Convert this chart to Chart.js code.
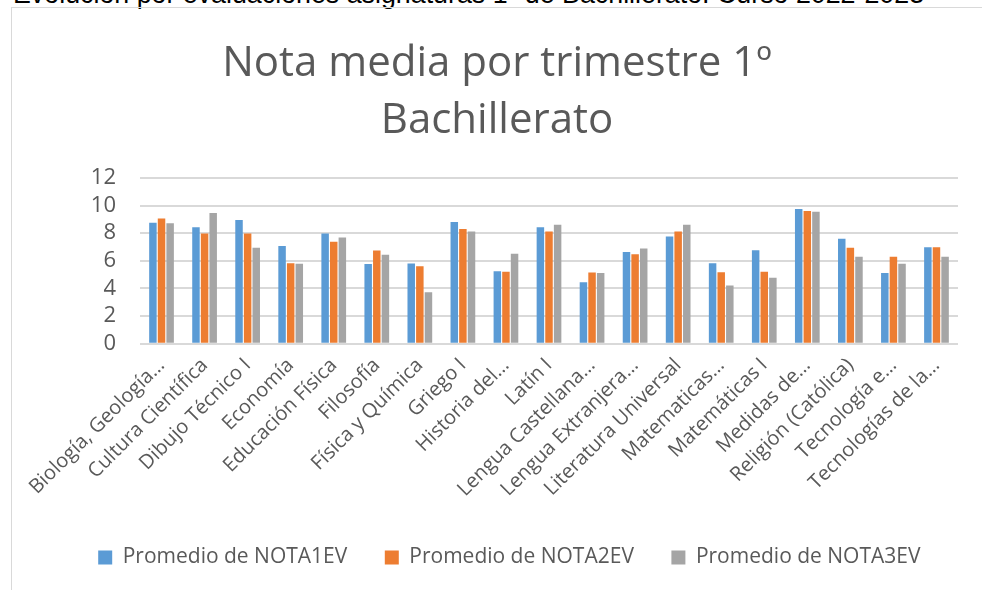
<!DOCTYPE html>
<html>
<head>
<meta charset="utf-8">
<script src="https://cdn.jsdelivr.net/npm/chart.js@4.4.1/dist/chart.umd.min.js"></script>
<style>
  html, body { margin: 0; padding: 0; background: #ffffff; overflow: hidden; }
  body { width: 982px; height: 590px; position: relative; }
  #header { position: absolute; left: 13px; top: -19px; font-family: "Liberation Sans", Arial, sans-serif; font-size: 26.8px; line-height: 27px; color: #000; white-space: nowrap; }
  #frame { position: absolute; left: 11px; top: 7px; width: 1000px; height: 620px; border: 1px solid #d9d9d9; box-sizing: border-box; }
  #c { position: absolute; left: 12px; top: 8px; }
</style>
</head>
<body>
<div id="header">Evolución por evaluaciones asignaturas 1º de Bachillerato. Curso 2022-2023</div>
<div id="frame"></div>
<canvas id="c" width="970" height="582"></canvas>
<script>
const categories = [
  "Biología, Geología…",
  "Cultura Científica",
  "Dibujo Técnico I",
  "Economía",
  "Educación Física",
  "Filosofía",
  "Física y Química",
  "Griego I",
  "Historia del…",
  "Latín I",
  "Lengua Castellana…",
  "Lengua Extranjera…",
  "Literatura Universal",
  "Matematicas…",
  "Matemáticas I",
  "Medidas de…",
  "Religión (Católica)",
  "Tecnología e…",
  "Tecnologías de la…"
];
const nota1ev = [8.76, 8.44, 8.95, 7.07, 7.98, 5.77, 5.81, 8.81, 5.25, 8.44, 4.45, 6.63, 7.77, 5.83, 6.77, 9.75, 7.60, 5.11, 6.99];
const nota2ev = [9.07, 7.98, 7.98, 5.83, 7.38, 6.75, 5.61, 8.30, 5.20, 8.13, 5.15, 6.48, 8.13, 5.18, 5.20, 9.61, 6.94, 6.29, 6.99];
const nota3ev = [8.73, 9.46, 6.94, 5.78, 7.69, 6.44, 3.73, 8.13, 6.51, 8.61, 5.11, 6.90, 8.61, 4.21, 4.77, 9.56, 6.29, 5.78, 6.29];
const seriesNames = ["Promedio de NOTA1EV", "Promedio de NOTA2EV", "Promedio de NOTA3EV"];
const yTicks = [0, 2, 4, 6, 8, 10, 12];
const titleLines = ["Nota media por trimestre 1º", "Bachillerato"];

const colors = ["#5B9BD5", "#ED7D31", "#A5A5A5"];
const textColor = "#595959";
const fontFamily = "'Open Sans', 'Noto Sans', sans-serif";

new Chart(document.getElementById("c"), {
  type: "bar",
  data: {
    labels: categories,
    datasets: [nota1ev, nota2ev, nota3ev].map((d, i) => ({
      label: seriesNames[i],
      data: d,
      backgroundColor: colors[i],
      borderWidth: 0,
      categoryPercentage: 0.6,
      barPercentage: 0.87
    }))
  },
  options: {
    responsive: false,
    animation: false,
    layout: { padding: { left: 24, right: 24, top: 0, bottom: 12 } },
    plugins: {
      title: {
        display: true,
        text: titleLines,
        color: textColor,
        font: { family: fontFamily, size: 42, weight: "normal", lineHeight: 1.357 },
        padding: { top: 28, bottom: 28 }
      },
      legend: {
        display: true,
        position: "bottom",
        align: "end",
        labels: {
          color: textColor,
          font: { family: fontFamily, size: 21 },
          boxWidth: 14,
          boxHeight: 14,
          padding: 37.5
        }
      },
      tooltip: { enabled: false }
    },
    scales: {
      x: {
        grid: { display: false },
        border: { display: false },
        ticks: {
          autoSkip: false,
          maxRotation: 45,
          minRotation: 45,
          color: textColor,
          font: { family: fontFamily, size: 20 },
          padding: 2
        },
        afterFit: (scale) => { scale.height += 6; }
      },
      y: {
        min: 0,
        max: 12,
        afterBuildTicks: (scale) => { scale.ticks = yTicks.map(v => ({ value: v })); },
        afterFit: (scale) => { scale.width = 104; },
        grid: { color: "#d9d9d9", lineWidth: 2, drawTicks: false },
        border: { display: false },
        ticks: {
          autoSkip: false,
          color: textColor,
          font: { family: fontFamily, size: 22 },
          padding: 24
        }
      }
    }
  }
});
</script>
</body>
</html>
